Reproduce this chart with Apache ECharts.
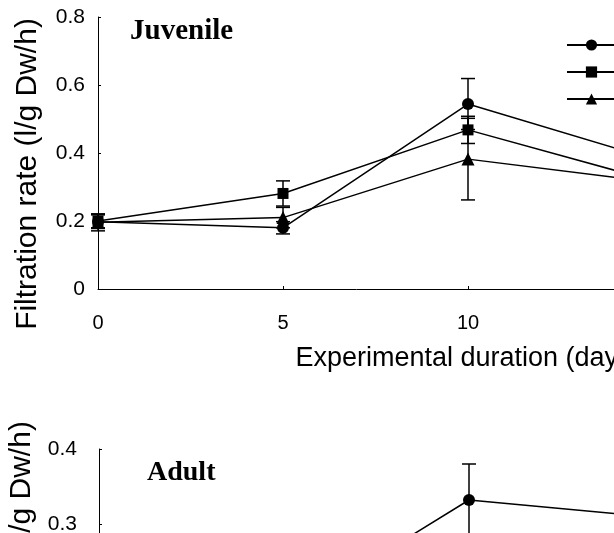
<!DOCTYPE html>
<html>
<head>
<meta charset="utf-8">
<script src="https://cdn.jsdelivr.net/npm/echarts@6/dist/echarts.min.js"></script>
<style>
  body { margin: 0; background: #fff; }
  #chart { width: 614px; height: 533px; }
</style>
</head>
<body>
<div id="chart"></div>
<script>
// days of exposure
const days = [0, 5, 10, 15];
const seriesNames = ['Control', 'Treatment 1', 'Treatment 2'];
const yTicks = [0, 0.2, 0.4, 0.6, 0.8];

// juvenile filtration rate (l/g Dw/h) with error bars
const juvCircle = [0.198, 0.18, 0.544, 0.381];
const juvCircleErr = [0.02, 0.018, 0.075, null];
const juvSquare = [0.2, 0.281, 0.468, 0.318];
const juvSquareErr = [0.02, 0.037, 0.04, null];
const juvTriangle = [0.196, 0.21, 0.382, 0.314];
const juvTriangleErr = [0.025, 0.03, 0.12, null];

// adult, only the part that shows
const adultDays = [5, 10, 15];
const adultCircle = [0.18, 0.332, 0.309];
const adultCircleErr = [null, 0.048, null];

let myChart = echarts.init(document.getElementById('chart'));

function pairs(xs, ys) {
	return xs.map(function (x, i) { return [x, ys[i]]; });
}

function lineSeries(name, idx, xs, ys, symbol, size) {
	return {
		name: name,
		type: 'line',
		xAxisIndex: idx,
		yAxisIndex: idx,
		data: pairs(xs, ys),
		symbol: symbol,
		symbolSize: size,
		showSymbol: true,
		lineStyle: { color: '#000', width: 1.5 },
		itemStyle: { color: '#000' },
		z: 3
	};
}

function errorSeries(idx, xs, ys, errs) {
	let data = [];
	xs.forEach(function (x, i) {
		if (errs[i] != null) data.push([x, ys[i] - errs[i], ys[i] + errs[i]]);
	});
	return {
		type: 'custom',
		xAxisIndex: idx,
		yAxisIndex: idx,
		data: data,
		z: 2,
		renderItem: function (params, api) {
			let lo = api.coord([api.value(0), api.value(1)]);
			let hi = api.coord([api.value(0), api.value(2)]);
			let w = 7;
			let st = { stroke: '#000', lineWidth: 1.5 };
			return {
				type: 'group',
				children: [
					{ type: 'line', shape: { x1: lo[0], y1: lo[1], x2: hi[0], y2: hi[1] }, style: st },
					{ type: 'line', shape: { x1: hi[0] - w, y1: hi[1], x2: hi[0] + w, y2: hi[1] }, style: st },
					{ type: 'line', shape: { x1: lo[0] - w, y1: lo[1], x2: lo[0] + w, y2: lo[1] }, style: st }
				]
			};
		}
	};
}

let axisFont = 'Liberation Sans';

function xAxisOpt(idx) {
	return {
		type: 'value',
		gridIndex: idx,
		min: 0,
		max: 20,
		interval: 5,
		name: 'Experimental duration (days)',
		nameLocation: 'middle',
		nameGap: 56,
		nameTextStyle: { fontFamily: axisFont, fontSize: 27, color: '#000' },
		axisLine: { lineStyle: { color: '#000', width: 1 } },
		axisTick: { inside: true, length: 3, lineStyle: { color: '#000' } },
		axisLabel: { fontFamily: axisFont, fontSize: 20, color: '#000', margin: 24 },
		splitLine: { show: false }
	};
}

let option = {
	animation: false,
	backgroundColor: '#fff',
	grid: [
		{ left: 98, top: 17, width: 740, height: 272, outerBoundsMode: 'none', containLabel: false },
		{ left: 99, top: 449, width: 740, height: 300, outerBoundsMode: 'none', containLabel: false }
	],
	graphic: [
		{
			type: 'text', left: 130, top: 17,
			style: { text: 'Juvenile', font: 'bold 29px "Liberation Serif"', fill: '#000' }
		},
		{
			type: 'text', left: 147, top: 459,
			style: { text: 'Adult', font: 'bold 28px "Liberation Serif"', fill: '#000' }
		}
	],
	legend: {
		orient: 'vertical',
		left: 561,
		top: 33,
		itemWidth: 49,
		itemHeight: 14,
		itemGap: 13,
		data: seriesNames,
		textStyle: { fontFamily: axisFont, fontSize: 14, color: '#000' }
	},
	xAxis: [xAxisOpt(0), xAxisOpt(1)],
	yAxis: [
		{
			type: 'value',
			gridIndex: 0,
			min: yTicks[0],
			max: yTicks[yTicks.length - 1],
			interval: 0.2,
			name: 'Filtration rate (l/g Dw/h)',
			nameLocation: 'middle',
			nameGap: 55,
			nameTextStyle: { fontFamily: axisFont, fontSize: 30, color: '#000', padding: [0, 42, 0, 0] },
			axisLine: { lineStyle: { color: '#000', width: 1 } },
			axisTick: { inside: true, length: 3, lineStyle: { color: '#000' } },
			axisLabel: { fontFamily: axisFont, fontSize: 21, color: '#000', margin: 13 },
			splitLine: { show: false }
		},
		{
			type: 'value',
			gridIndex: 1,
			min: 0,
			max: 0.4,
			interval: 0.1,
			name: 'Filtration rate (l/g Dw/h)',
			nameLocation: 'middle',
			nameGap: 57,
			nameTextStyle: { fontFamily: axisFont, fontSize: 30, color: '#000', padding: [0, 0, 0, 44] },
			axisLine: { lineStyle: { color: '#000', width: 1 } },
			axisTick: { inside: true, length: 3, lineStyle: { color: '#000' } },
			axisLabel: { fontFamily: axisFont, fontSize: 21, color: '#000', margin: 22, padding: [10, 0, 0, 0] },
			splitLine: { show: false }
		}
	],
	series: [
		lineSeries(seriesNames[0], 0, days, juvCircle, 'circle', 12),
		lineSeries(seriesNames[1], 0, days, juvSquare, 'rect', 11),
		lineSeries(seriesNames[2], 0, days, juvTriangle, 'triangle', 13),
		errorSeries(0, days, juvCircle, juvCircleErr),
		errorSeries(0, days, juvSquare, juvSquareErr),
		errorSeries(0, days, juvTriangle, juvTriangleErr),
		lineSeries(seriesNames[0], 1, adultDays, adultCircle, 'circle', 12),
		errorSeries(1, adultDays, adultCircle, adultCircleErr)
	]
};
myChart.setOption(option);
</script>
</body>
</html>
